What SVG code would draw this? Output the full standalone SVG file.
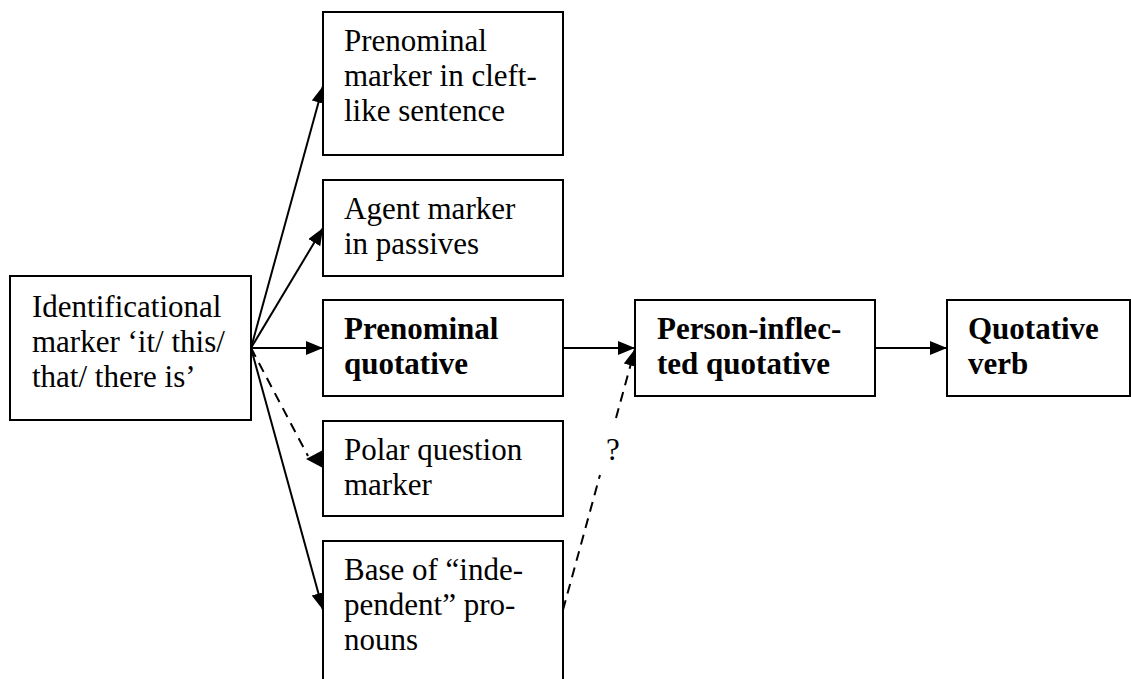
<svg xmlns="http://www.w3.org/2000/svg" width="1131" height="679" viewBox="0 0 1131 679">
<style>
.box{fill:#fff;stroke:#000;stroke-width:2}
.t{font-family:'Liberation Serif','Times New Roman',Times,serif;font-size:31px;fill:#000}
.b{font-weight:bold}
.ln{stroke:#000;stroke-width:2;fill:none}
.ds{stroke-dasharray:10 7}
</style>
<defs>
<marker id="ah" markerUnits="userSpaceOnUse" markerWidth="18" markerHeight="15" refX="17" refY="7" orient="auto">
<path d="M0,0 L17,7 L0,14 z" fill="#000"/>
</marker>
</defs>
<rect width="1131" height="679" fill="#fff"/>
<g id="connectors">
<line class="ln" x1="251" y1="348" x2="323" y2="86" marker-end="url(#ah)"/>
<line class="ln" x1="251" y1="348" x2="323" y2="228" marker-end="url(#ah)"/>
<line class="ln" x1="251" y1="348" x2="323" y2="348" marker-end="url(#ah)"/>
<line class="ln" x1="251" y1="348" x2="323" y2="610" marker-end="url(#ah)"/>
<line class="ln ds" x1="251" y1="348" x2="308" y2="456"/>
<polygon points="323,450 306,459 323,468" fill="#000"/>
<line class="ln" x1="563" y1="348" x2="635" y2="348" marker-end="url(#ah)"/>
<line class="ln" x1="875" y1="348" x2="947" y2="348" marker-end="url(#ah)"/>
<line class="ln ds" x1="563" y1="610" x2="600" y2="475"/>
<line class="ln ds" x1="616" y1="418" x2="635" y2="349" marker-end="url(#ah)"/>
<text class="t" x="613" y="460" text-anchor="middle">?</text>
</g>
<g id="identificational">
<rect class="box" x="10" y="276" width="241" height="144"/>
<text class="t" x="32" y="317">Identificational</text>
<text class="t" x="32" y="352">marker ‘it/ this/</text>
<text class="t" x="32" y="387">that/ there is’</text>
</g>
<g id="cleft">
<rect class="box" x="323" y="12" width="240" height="143"/>
<text class="t" x="344" y="51">Prenominal</text>
<text class="t" x="344" y="86">marker in cleft-</text>
<text class="t" x="344" y="121">like sentence</text>
</g>
<g id="agent">
<rect class="box" x="323" y="180" width="240" height="96"/>
<text class="t" x="344" y="219">Agent marker</text>
<text class="t" x="344" y="254">in passives</text>
</g>
<g id="prenominal-quotative">
<rect class="box" x="323" y="300" width="240" height="96"/>
<text class="t b" x="344" y="339">Prenominal</text>
<text class="t b" x="344" y="374">quotative</text>
</g>
<g id="polar">
<rect class="box" x="323" y="421" width="240" height="95"/>
<text class="t" x="344" y="460">Polar question</text>
<text class="t" x="344" y="495">marker</text>
</g>
<g id="base">
<rect class="box" x="323" y="541" width="240" height="150"/>
<text class="t" x="344" y="580">Base of “inde-</text>
<text class="t" x="344" y="615">pendent” pro-</text>
<text class="t" x="344" y="650">nouns</text>
</g>
<g id="person">
<rect class="box" x="635" y="300" width="240" height="96"/>
<text class="t b" x="657" y="339">Person-inflec-</text>
<text class="t b" x="657" y="374">ted quotative</text>
</g>
<g id="quotative-verb">
<rect class="box" x="947" y="300" width="183" height="96"/>
<text class="t b" x="968" y="339">Quotative</text>
<text class="t b" x="968" y="374">verb</text>
</g>
</svg>
